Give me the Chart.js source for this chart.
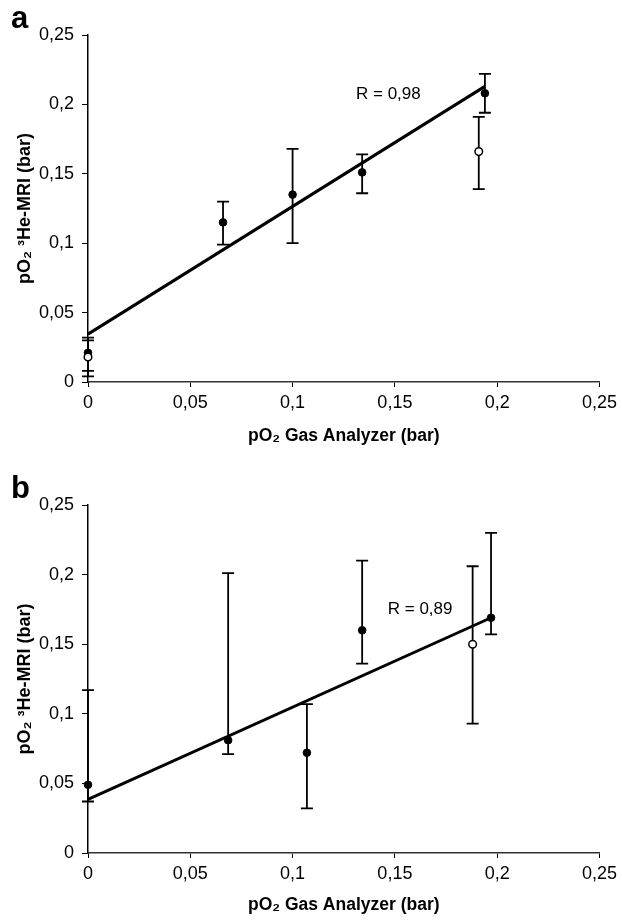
<!DOCTYPE html>
<html>
<head>
<meta charset="utf-8">
<script src="https://cdn.jsdelivr.net/npm/chart.js@4.4.1/dist/chart.umd.min.js"></script>
<style>
  body { margin: 0; background: #fff; }
  .panel { position: absolute; left: 0; width: 622px; }
  #panel-a { top: 0; height: 470px; }
  #panel-b { top: 470px; height: 452px; }
</style>
</head>
<body>
<div class="panel" id="panel-a"><canvas id="chart-a"></canvas></div>
<div class="panel" id="panel-b"><canvas id="chart-b"></canvas></div>
<script>
// painel a - pontos cheios
const xFilledA = [0, 0.066, 0.1, 0.134, 0.194];
const yFilledA = [0.021, 0.115, 0.135, 0.151, 0.208];
const lowFilledA = [0.008, 0.099, 0.100, 0.136, 0.194];
const highFilledA = [0.032, 0.130, 0.168, 0.164, 0.222];
// painel a - pontos vazios
const xOpenA = [0, 0.191];
const yOpenA = [0.018, 0.166];
const lowOpenA = [0.004, 0.139];
const highOpenA = [0.030, 0.191];
// painel a - reta de regressão
const xFitA = [0, 0.194];
const yFitA = [0.0345, 0.213];

// painel b
const xFilledB = [0, 0.0685, 0.107, 0.134, 0.197];
const yFilledB = [0.049, 0.081, 0.072, 0.160, 0.169];
const lowFilledB = [0.037, 0.071, 0.032, 0.136, 0.157];
const highFilledB = [0.117, 0.201, 0.107, 0.210, 0.230];
const xOpenB = [0.188];
const yOpenB = [0.150];
const lowOpenB = [0.093];
const highOpenB = [0.206];
const xFitB = [0, 0.197];
const yFitB = [0.0386, 0.169];

const tickValues = [0, 0.05, 0.1, 0.15, 0.2, 0.25];
const tickLabels = ['0', '0,05', '0,1', '0,15', '0,2', '0,25'];

const FONT = '"Liberation Sans", Arial, sans-serif';

function toPoints(xs, ys) {
    return xs.map((x, i) => ({ x: x, y: ys[i] }));
}

// Desenha as barras de erro antes dos pontos
const errorBars = {
    id: 'errorBars',
    beforeDatasetsDraw(chart) {
        const ctx = chart.ctx;
        const sx = chart.scales.x, sy = chart.scales.y;
        ctx.save();
        ctx.strokeStyle = '#000';
        ctx.lineWidth = 1.8;
        chart.data.datasets.forEach(ds => {
            if (!ds.low) return;
            ds.data.forEach((p, i) => {
                const px = sx.getPixelForValue(p.x);
                const top = sy.getPixelForValue(ds.high[i]);
                const bot = sy.getPixelForValue(ds.low[i]);
                ctx.beginPath();
                ctx.moveTo(px, top); ctx.lineTo(px, bot);
                ctx.moveTo(px - 6, top); ctx.lineTo(px + 6, top);
                ctx.moveTo(px - 6, bot); ctx.lineTo(px + 6, bot);
                ctx.stroke();
            });
        });
        ctx.restore();
    }
};

// Letra do painel e texto do R
const panelText = {
    id: 'panelText',
    afterDraw(chart, args, opts) {
        const ctx = chart.ctx;
        ctx.save();
        ctx.fillStyle = '#000';
        ctx.textBaseline = 'alphabetic';
        ctx.font = 'bold 31px ' + FONT;
        ctx.fillText(opts.letter, 11, opts.letterY);
        ctx.font = '17px ' + FONT;
        ctx.textBaseline = 'middle';
        ctx.fillText(opts.note,
            chart.scales.x.getPixelForValue(opts.noteX),
            chart.scales.y.getPixelForValue(opts.noteY));
        ctx.restore();
    }
};

function makeChart(id, d) {
    const ctx = document.getElementById(id).getContext('2d');
    return new Chart(ctx, {
        type: 'scatter',
        data: {
            datasets: [{
                data: toPoints(d.xFit, d.yFit),
                showLine: true,
                borderColor: '#000',
                borderWidth: 3,
                pointRadius: 0,
                clip: false
            }, {
                data: toPoints(d.xOpen, d.yOpen),
                low: d.lowOpen,
                high: d.highOpen,
                backgroundColor: '#fff',
                borderColor: '#000',
                borderWidth: 1.5,
                pointRadius: 3.8,
                clip: false
            }, {
                data: toPoints(d.xFilled, d.yFilled),
                low: d.lowFilled,
                high: d.highFilled,
                backgroundColor: '#000',
                borderColor: '#000',
                borderWidth: 1,
                pointRadius: 3.8,
                clip: false
            }]
        },
        options: {
            responsive: true,
            maintainAspectRatio: false,
            animation: false,
            events: [],
            layout: { padding: { top: 35, right: 22, left: 0, bottom: 0 } },
            plugins: {
                legend: { display: false },
                tooltip: { enabled: false },
                panelText: {
                    letter: d.letter, letterY: d.letterY,
                    note: d.note, noteX: d.noteX, noteY: d.noteY
                }
            },
            scales: {
                x: {
                    type: 'linear',
                    min: 0, max: 0.25,
                    afterBuildTicks: s => { s.ticks = tickValues.map(v => ({ value: v })); },
                    afterFit: s => { s.height = d.xHeight; },
                    grid: { drawOnChartArea: false, drawTicks: true, tickLength: 5, color: '#000', tickWidth: 1 },
                    border: { color: '#333', width: 1.5 },
                    ticks: {
                        color: '#000',
                        padding: 5,
                        maxRotation: 0,
                        font: { family: FONT, size: 18 },
                        callback: (v, i) => tickLabels[i]
                    },
                    title: {
                        display: true,
                        text: 'pO₂ Gas Analyzer (bar)',
                        color: '#000',
                        font: { family: FONT, size: 17.5, weight: 'bold' },
                        padding: { top: 0, bottom: d.xTitlePad }
                    }
                },
                y: {
                    type: 'linear',
                    min: 0, max: 0.25,
                    afterBuildTicks: s => { s.ticks = tickValues.map(v => ({ value: v })); },
                    afterFit: s => { s.width = 88; },
                    grid: { drawOnChartArea: false, drawTicks: true, tickLength: 6, color: '#000', tickWidth: 1 },
                    border: { color: '#000', width: 1.5 },
                    ticks: {
                        color: '#000',
                        padding: 8,
                        font: { family: FONT, size: 18 },
                        callback: (v, i) => tickLabels[i]
                    },
                    title: {
                        display: true,
                        text: 'pO₂ ³He-MRI (bar)',
                        color: '#000',
                        font: { family: FONT, size: 18, weight: 'bold' },
                        padding: { top: 14, bottom: 0 }
                    }
                }
            }
        },
        plugins: [errorBars, panelText]
    });
}

makeChart('chart-a', {
    xFilled: xFilledA, yFilled: yFilledA, lowFilled: lowFilledA, highFilled: highFilledA,
    xOpen: xOpenA, yOpen: yOpenA, lowOpen: lowOpenA, highOpen: highOpenA,
    xFit: xFitA, yFit: yFitA,
    letter: 'a', letterY: 28,
    note: 'R = 0,98', noteX: 0.131, noteY: 0.2075,
    xHeight: 88, xTitlePad: 23
});

makeChart('chart-b', {
    xFilled: xFilledB, yFilled: yFilledB, lowFilled: lowFilledB, highFilled: highFilledB,
    xOpen: xOpenB, yOpen: yOpenB, lowOpen: lowOpenB, highOpen: highOpenB,
    xFit: xFitB, yFit: yFitB,
    letter: 'b', letterY: 28,
    note: 'R = 0,89', noteX: 0.1465, noteY: 0.175,
    xHeight: 69, xTitlePad: 6
});
</script>
</body>
</html>
